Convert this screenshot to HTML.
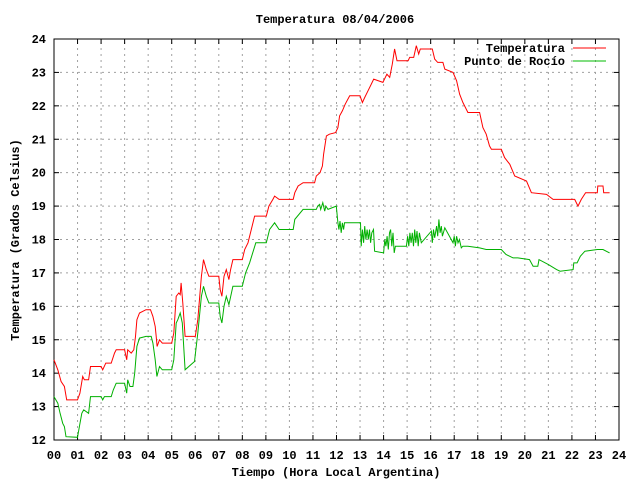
<!DOCTYPE html>
<html><head><meta charset="utf-8"><style>
body{margin:0;background:#fff}
svg text{font-family:"Liberation Mono","DejaVu Sans Mono",monospace;font-weight:bold;font-size:12px;fill:#000}
</style></head><body>
<svg id="c" width="640" height="480" xmlns="http://www.w3.org/2000/svg">
<rect width="640" height="480" fill="#fff"/>
<g id="grid"></g>
<g id="axes"></g>
<g id="series"></g>
<text x="335" y="23" text-anchor="middle">Temperatura 08/04/2006</text>
<text x="336" y="476" text-anchor="middle">Tiempo (Hora Local Argentina)</text>
<text transform="translate(19,240) rotate(-90)" text-anchor="middle">Temperatura (Grados Celsius)</text>
<g>
<g><text x="565" y="52" text-anchor="end">Temperatura</text><line x1="573" y1="48" x2="606" y2="48" stroke="#f00"/></g>
<g><text x="565" y="65" text-anchor="end">Punto de Rocío</text><line x1="573" y1="61" x2="606" y2="61" stroke="#0b0"/></g>
</g>
</svg>
<script>
const xTicks=["00","01","02","03","04","05","06","07","08","09","10","11","12","13","14","15","16","17","18","19","20","21","22","23","24"];
const yTicks=[12,13,14,15,16,17,18,19,20,21,22,23,24];
const tempH=[0,0.16,0.3,0.44,0.54,1.0,1.1,1.22,1.29,1.47,1.55,2.0,2.07,2.2,2.43,2.57,2.64,3.0,3.09,3.13,3.28,3.39,3.46,3.52,3.63,3.91,4.1,4.2,4.3,4.34,4.38,4.48,4.6,5.0,5.09,5.19,5.3,5.36,5.4,5.47,5.57,6.0,6.11,6.26,6.35,6.47,6.58,7.0,7.06,7.13,7.22,7.32,7.43,7.5,7.6,8.0,8.1,8.24,8.38,8.52,9.02,9.13,9.3,9.37,9.56,10.16,10.23,10.37,10.58,11.07,11.14,11.3,11.4,11.45,11.57,11.7,11.96,12.06,12.13,12.25,12.37,12.56,13.0,13.1,13.2,13.34,13.48,13.58,13.97,14.14,14.26,14.37,14.47,14.57,15.04,15.11,15.28,15.39,15.49,15.56,16.07,16.17,16.3,16.52,16.6,16.95,17.1,17.23,17.37,17.58,18.08,18.22,18.36,18.5,18.58,19.0,19.14,19.36,19.57,20.07,20.28,20.92,21.2,22.12,22.26,22.4,22.58,23.08,23.1,23.32,23.35,23.6];
const tempV=[14.4,14.1,13.75,13.6,13.2,13.2,13.4,13.9,13.8,13.8,14.2,14.2,14.1,14.3,14.3,14.6,14.7,14.7,14.4,14.7,14.6,14.7,15.1,15.6,15.8,15.9,15.9,15.7,15.4,15.1,14.8,15.0,14.9,14.9,15.2,16.3,16.4,16.35,16.7,16.1,15.1,15.1,15.6,16.9,17.4,17.1,16.9,16.9,16.5,16.3,16.9,17.1,16.8,17.1,17.4,17.4,17.7,17.9,18.3,18.7,18.7,19.0,19.2,19.3,19.2,19.2,19.4,19.6,19.7,19.7,19.9,20.0,20.2,20.55,21.1,21.15,21.2,21.35,21.7,21.85,22.05,22.3,22.3,22.1,22.25,22.45,22.65,22.8,22.7,22.95,22.85,23.25,23.7,23.35,23.35,23.45,23.45,23.8,23.55,23.7,23.7,23.4,23.3,23.3,23.1,23.0,22.75,22.35,22.1,21.8,21.8,21.35,21.15,20.8,20.7,20.7,20.45,20.25,19.9,19.75,19.4,19.35,19.2,19.2,19.0,19.2,19.4,19.4,19.6,19.6,19.4,19.4];
const dewH=[0,0.16,0.26,0.37,0.44,0.51,1.0,1.08,1.18,1.26,1.47,1.55,2.0,2.07,2.14,2.43,2.52,2.64,3.0,3.09,3.13,3.23,3.35,3.43,3.52,3.63,3.91,4.13,4.2,4.3,4.37,4.48,4.6,5.0,5.09,5.19,5.26,5.36,5.45,5.57,5.97,6.11,6.26,6.35,6.47,6.58,7.0,7.06,7.13,7.22,7.32,7.43,7.6,8.0,8.14,8.31,8.57,9.02,9.16,9.37,9.56,10.16,10.23,10.58,11.0,11.14,11.2,11.28,11.33,11.42,11.5,11.55,11.64,11.99,
12.06,12.1,12.15,12.2,12.25,12.3,12.34,12.56,13.02,13.05,13.1,13.15,13.2,13.25,13.3,13.35,13.4,13.45,13.5,13.57,13.62,14.0,14.05,14.1,14.15,14.2,14.25,14.3,14.35,14.4,14.45,14.5,14.97,15.02,15.07,15.12,15.17,15.22,15.27,15.32,15.37,15.42,15.47,15.52,15.6,16.03,16.07,16.12,16.17,16.25,16.3,16.35,16.4,16.45,16.5,16.6,16.95,17.0,17.05,17.1,17.16,17.22,17.3,17.37,
17.58,18.08,18.36,18.58,19.0,19.2,19.5,19.7,20.2,20.35,20.55,20.6,21.0,21.35,21.5,22.05,22.08,22.22,22.36,22.55,23.08,23.32,23.6];
const dewV=[13.3,13.1,12.8,12.5,12.4,12.1,12.08,12.4,12.8,12.9,12.8,13.3,13.3,13.2,13.3,13.3,13.5,13.7,13.7,13.4,13.8,13.6,13.6,14.0,14.8,15.05,15.1,15.1,14.9,14.4,13.9,14.2,14.1,14.1,14.4,15.5,15.6,15.8,15.5,14.1,14.35,15.2,16.3,16.6,16.3,16.1,16.1,15.7,15.5,16.0,16.3,16.05,16.6,16.6,17.0,17.3,17.9,17.9,18.3,18.5,18.3,18.3,18.6,18.9,18.9,18.9,19.0,19.05,18.9,19.1,18.85,19.0,18.9,19.0,
18.5,18.3,18.55,18.2,18.5,18.3,18.5,18.5,18.5,17.8,18.3,17.9,18.4,18.0,18.3,18.0,18.3,17.9,18.2,18.3,17.65,17.6,18.0,17.8,18.1,17.7,18.2,18.3,17.8,18.2,17.6,17.8,17.8,18.1,17.8,18.2,17.9,18.2,17.8,18.3,17.9,18.25,17.8,18.2,17.9,18.25,17.9,18.3,18.05,18.4,18.1,18.6,18.2,18.4,18.1,18.35,17.9,18.1,17.8,18.1,17.9,18.0,17.75,17.8,
17.8,17.75,17.7,17.7,17.7,17.55,17.45,17.45,17.4,17.2,17.2,17.4,17.25,17.1,17.05,17.1,17.3,17.3,17.5,17.65,17.7,17.7,17.6];
const L=54,R=619,T=39,B=440,X0=0,X1=24,Y0=12,Y1=24;
const sx=h=>L+(h-X0)/(X1-X0)*(R-L);
const sy=v=>B-(v-Y0)/(Y1-Y0)*(B-T);
const NS="http://www.w3.org/2000/svg";
function mk(tag,parent,attrs){const e=document.createElementNS(NS,tag);for(const k in attrs)e.setAttribute(k,attrs[k]);parent.appendChild(e);return e;}
const grid=document.getElementById('grid'),axes=document.getElementById('axes'),series=document.getElementById('series');
xTicks.forEach((t,i)=>{const x=sx(i);
 if(i>0&&i<xTicks.length-1){const g=mk('line',grid,{x1:x,y1:B,x2:x,y2:T,stroke:'#a0a0a0','stroke-dasharray':'2,4'});}
 mk('line',axes,{x1:x,y1:B,x2:x,y2:B-5,stroke:'#000'});mk('line',axes,{x1:x,y1:T,x2:x,y2:T+5,stroke:'#000'});
 const tx=mk('text',axes,{x:x,y:B+19,'text-anchor':'middle'});tx.textContent=t;
 
 
});
yTicks.forEach((v,i)=>{const y=sy(v);
 if(i>0&&i<yTicks.length-1){const g=mk('line',grid,{x1:L,y1:y,x2:R,y2:y,stroke:'#a0a0a0','stroke-dasharray':'2,4'});}
 mk('line',axes,{x1:L,y1:y,x2:L+5,y2:y,stroke:'#000'});mk('line',axes,{x1:R,y1:y,x2:R-5,y2:y,stroke:'#000'});
 const tx=mk('text',axes,{x:L-8,y:y+4,'text-anchor':'end'});tx.textContent=v;
 
 
});
mk('rect',axes,{x:L,y:T,width:R-L,height:B-T,fill:'none',stroke:'#000'});
function line(H,V,col,name){const p=H.map((h,i)=>sx(h).toFixed(1)+','+sy(V[i]).toFixed(1)).join(' ');
 const e=mk('polyline',series,{points:p,fill:'none',stroke:col,'stroke-width':1});
 
 }
line(dewH,dewV,'#00b000','punto-de-rocio-line');
line(tempH,tempV,'#ff0000','temperatura-line');
</script>
</body></html>
